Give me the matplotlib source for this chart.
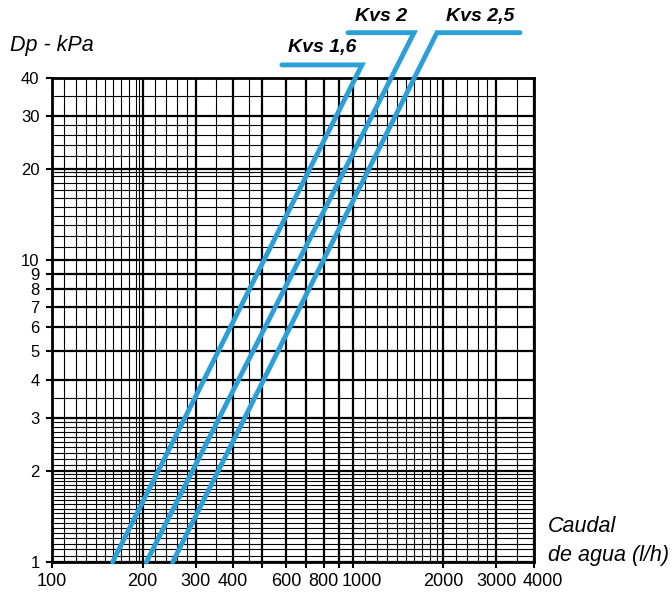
import matplotlib
matplotlib.use("Agg")
import matplotlib.pyplot as plt
import matplotlib.transforms as mtransforms
import numpy as np

# ---- data ----
# each series: polyline (bottom point, top corner, end of label leader)
kvs16_q = [159, 1072, 581]
kvs16_dp = [1.0, 44.2, 44.2]
kvs2_q = [206, 1597, 963]
kvs2_dp = [1.0, 56.5, 56.5]
kvs25_q = [252, 1903, 3592]
kvs25_dp = [1.0, 56.5, 56.5]
series_labels = ["Kvs 1,6", "Kvs 2", "Kvs 2,5"]
label_q = [789, 1240, 2645]
label_dp = [50.5, 64.0, 64.0]

x_major = [100, 200, 300, 400, 500, 600, 700, 800, 900, 1000, 2000, 3000, 4000]
x_labels = ["100", "200", "300", "400", "", "600", "", "800", "", "1000", "2000", "3000", "4000"]
x_minor = [110, 120, 130, 140, 150, 160, 170, 180, 190, 195,
           220, 240, 260, 280, 350, 450,
           1100, 1200, 1300, 1400, 1500, 1600, 1700, 1800, 1900,
           2200, 2400, 2600, 2800, 3500]
y_major = [1, 2, 3, 4, 5, 6, 7, 8, 9, 10, 20, 30, 40]
y_labels = ["1", "2", "3", "4", "5", "6", "7", "8", "9", "10", "20", "30", "40"]
y_minor = [1.05, 1.1, 1.15, 1.2, 1.25, 1.3, 1.35, 1.4, 1.45, 1.5, 1.55, 1.6, 1.65,
           1.7, 1.75, 1.8, 1.85, 1.9, 1.95,
           2.1, 2.2, 2.3, 2.4, 2.5, 2.6, 2.7, 2.8, 2.9, 3.5,
           11, 12, 13, 14, 15, 16, 17, 18, 19, 19.5,
           22, 24, 26, 28, 35]

blue = "#2a9fd8"
plt.rcParams["font.family"] = ["Liberation Sans", "DejaVu Sans"]

fig = plt.figure(figsize=(6.72, 5.93), dpi=100)
ax = fig.add_axes([52 / 672, 1 - 562 / 593, (534 - 52) / 672, (562 - 78) / 593])
ax.set_xscale("log")
ax.set_yscale("log")
ax.set_xlim(100, 4000)
ax.set_ylim(1, 40)

# labels that sit right of their tick in the reference are drawn separately
shifted = {"1000", "4000"}
ax.set_xticks(x_major)
ax.set_xticklabels(["" if l in shifted else l for l in x_labels])
ax.set_xticks(x_minor, minor=True)
ax.set_yticks(y_major)
ax.set_yticklabels(y_labels)
ax.set_yticks(y_minor, minor=True)
ax.xaxis.set_minor_formatter(matplotlib.ticker.NullFormatter())
ax.yaxis.set_minor_formatter(matplotlib.ticker.NullFormatter())

ax.grid(which="major", color="black", linewidth=1.6)
ax.grid(which="minor", color="black", linewidth=0.8)
ax.tick_params(which="major", direction="out", length=4, width=1.5,
               labelsize=13, pad=4, colors="black")
ax.tick_params(axis="y", which="major", pad=5, labelsize=12)
ax.tick_params(which="minor", length=0)
for s in ax.spines.values():
    s.set_linewidth(2)
ax.set_axisbelow(True)

base = mtransforms.blended_transform_factory(ax.transData, ax.transAxes)
for q, l in zip(x_major, x_labels):
    if l in shifted:
        ax.text(q, 0, l, ha="center", va="top", fontsize=13, clip_on=False,
                transform=base + mtransforms.ScaledTranslation(
                    9 / 100, -11.5 / 100, fig.dpi_scale_trans))

for q, dp in [(kvs16_q, kvs16_dp), (kvs2_q, kvs2_dp), (kvs25_q, kvs25_dp)]:
    ax.plot(q, dp, color=blue, linewidth=3.5, clip_on=False,
            solid_capstyle="round", solid_joinstyle="miter", zorder=5)

for lab, q, dp in zip(series_labels, label_q, label_dp):
    ax.text(q, dp, lab, ha="center", va="center", fontsize=14,
            fontweight="bold", fontstyle="italic", color="black", clip_on=False)

fig.text(10 / 672, 1 - 45 / 593, "Dp - kPa", ha="left", va="center",
         fontsize=15.5, fontstyle="italic")
fig.text(548 / 672, 1 - 527 / 593, "Caudal", ha="left", va="center",
         fontsize=15.5, fontstyle="italic")
fig.text(548 / 672, 1 - 555 / 593, "de agua (l/h)", ha="left", va="center",
         fontsize=15.5, fontstyle="italic")

fig.savefig("out.png", dpi=100)
